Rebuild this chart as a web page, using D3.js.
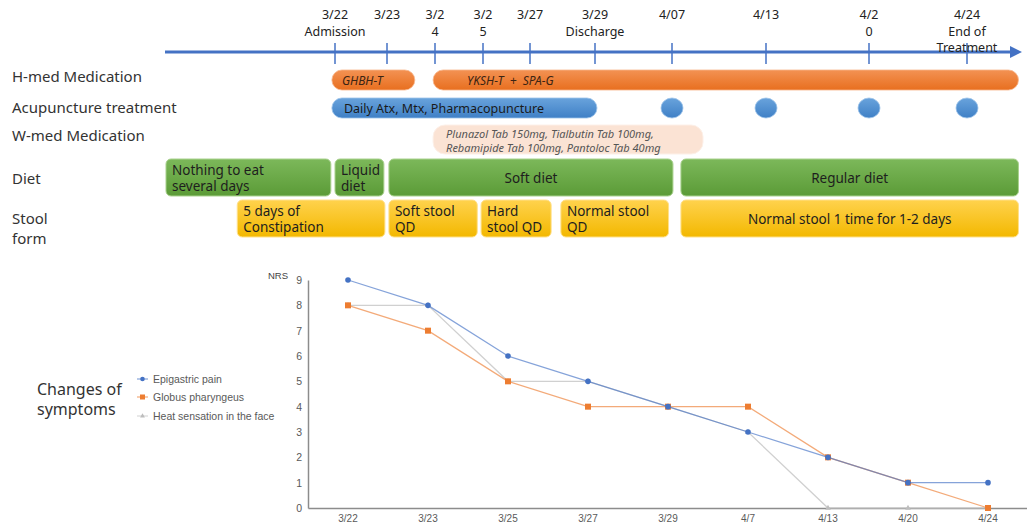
<!DOCTYPE html>
<html>
<head>
<meta charset="utf-8">
<script src="https://cdn.jsdelivr.net/npm/d3@7"></script>
<style>
  body { margin: 0; background: #fff; }
  svg { display: block; font-family: "Noto Sans", sans-serif; }
</style>
</head>
<body>
<svg id="chart"></svg>
<script>
var width = 1027, height = 527

// timeline (days after 3/22 admission)
var tickDays = [0, 1, 2, 3, 5, 7, 16, 22, 29, 33]
var tickLabels = [
    ["3/22", "Admission"], ["3/23"], ["3/2", "4"], ["3/2", "5"], ["3/27"],
    ["3/29", "Discharge"], ["4/07"], ["4/13"], ["4/2", "0"], ["4/24", "End of", "Treatment"]
]

var rowLabels = [["H-med Medication"], ["Acupuncture treatment"], ["W-med Medication"], ["Diet"], ["Stool", "form"]]

var hmedNames = ["GHBH-T", "YKSH-T  +  SPA-G"]
var hmedFrom = [-0.06, 1.96]
var hmedTo = [1.58, 35.1]

var acuName = "Daily Atx, Mtx, Pharmacopuncture"
var acuFrom = -0.06, acuTo = 7.23
var acuVisits = [16, 22, 29, 33]

var wmedLines = ["Plunazol Tab 150mg, Tialbutin Tab 100mg,", "Rebamipide Tab 100mg, Pantoloc Tab 40mg"]
var wmedFrom = 1.96, wmedTo = 17.98

var dietLines = [["Nothing to eat", "several days"], ["Liquid", "diet"], ["Soft diet"], ["Regular diet"]]
var dietFrom = [-3.25, 0, 1.04, 16.57]
var dietTo = [-0.08, 0.94, 16.06, 35.1]

var stoolLines = [["5 days of", "Constipation"], ["Soft stool", "QD"], ["Hard", "stool QD"], ["Normal stool", "QD"], ["Normal stool 1 time for 1-2 days"]]
var stoolFrom = [-1.88, 1.04, 2.96, 5.95, 16.57]
var stoolTo = [0.96, 2.88, 5.65, 15.6, 35.1]

// NRS chart
var dates = ["3/22", "3/23", "3/25", "3/27", "3/29", "4/7", "4/13", "4/20", "4/24"]
var epigastric = [9, 8, 6, 5, 4, 3, 2, 1, 1]
var globus = [8, 7, 5, 4, 4, 4, 2, 1, 0]
var heat = [8, 8, 5, 5, 4, 3, 0, 0, 0]
var seriesNames = ["Epigastric pain", "Globus pharyngeus", "Heat sensation in the face"]

var svg = d3.select("#chart").attr("width", width).attr("height", height)
var defs = svg.append("defs")

function grad(id, c1, c2) {
    var g = defs.append("linearGradient").attr("id", id)
        .attr("x1", 0).attr("y1", 0).attr("x2", 0).attr("y2", 1)
    g.append("stop").attr("offset", "0%").attr("stop-color", c1)
    g.append("stop").attr("offset", "100%").attr("stop-color", c2)
}
grad("gOrange", "#f39253", "#e86f1f")
grad("gBlue", "#69a3dc", "#3f80c6")
grad("gGreen", "#7cb85a", "#5b9b37")
grad("gYellow", "#ffd24d", "#f3b800")

// timeline scale (piecewise, the original spacing is not proportional to time)
var tx = d3.scaleLinear()
    .domain(tickDays)
    .range([335, 387, 435, 483, 530, 595, 672, 766, 869, 967])

var axisY = 52
svg.append("line")
    .attr("x1", 165).attr("x2", 1012)
    .attr("y1", axisY).attr("y2", axisY)
    .attr("stroke", "#4472c4").attr("stroke-width", 3)
svg.append("path")
    .attr("d", "M1010," + (axisY - 6) + "L1022," + axisY + "L1010," + (axisY + 6) + "Z")
    .attr("fill", "#4472c4")

tickDays.forEach((d, i) => {
    svg.append("line")
        .attr("x1", tx(d)).attr("x2", tx(d))
        .attr("y1", axisY - 9).attr("y2", axisY + 12)
        .attr("stroke", "#4472c4").attr("stroke-width", 1.5)
    tickLabels[i].forEach((t, j) => {
        svg.append("text")
            .attr("x", tx(d)).attr("y", 19 + j * 16.5)
            .attr("text-anchor", "middle")
            .style("font-size", "12.5px").style("fill", "#222")
            .text(t)
    })
})

// row labels
var rowY = [[82], [113], [141], [184], [224, 244]]
rowLabels.forEach((r, i) => {
    r.forEach((t, j) => {
        svg.append("text")
            .attr("x", 12).attr("y", rowY[i][j])
            .style("font-size", "15px").style("fill", "#333")
            .text(t)
    })
})

// H-med
hmedNames.forEach((n, i) => {
    svg.append("rect")
        .attr("x", tx(hmedFrom[i])).attr("y", 70)
        .attr("width", tx(hmedTo[i]) - tx(hmedFrom[i])).attr("height", 20)
        .attr("rx", 10)
        .attr("fill", "url(#gOrange)").attr("stroke", "#f7b58a").attr("stroke-width", 0.8)
})
svg.append("text")
    .attr("x", tx(hmedFrom[0]) + 10).attr("y", 85)
    .style("font-size", "12px").style("font-style", "italic").style("fill", "#3b2413")
    .text(hmedNames[0])
svg.append("text")
    .attr("x", tx(hmedFrom[1]) + 34).attr("y", 85)
    .attr("xml:space", "preserve")
    .style("font-size", "12px").style("font-style", "italic").style("fill", "#3b2413")
    .text(hmedNames[1])

// acupuncture
svg.append("rect")
    .attr("x", tx(acuFrom)).attr("y", 98)
    .attr("width", tx(acuTo) - tx(acuFrom)).attr("height", 20)
    .attr("rx", 10)
    .attr("fill", "url(#gBlue)").attr("stroke", "#9cc3ea").attr("stroke-width", 0.8)
svg.append("text")
    .attr("x", tx(acuFrom) + 12).attr("y", 113)
    .style("font-size", "12.5px").style("fill", "#1a1a1a")
    .text(acuName)
acuVisits.forEach(d => {
    svg.append("ellipse")
        .attr("cx", tx(d)).attr("cy", 108)
        .attr("rx", 11).attr("ry", 10)
        .attr("fill", "url(#gBlue)").attr("stroke", "#9cc3ea").attr("stroke-width", 0.8)
})

// W-med
svg.append("rect")
    .attr("x", tx(wmedFrom)).attr("y", 125)
    .attr("width", tx(wmedTo) - tx(wmedFrom)).attr("height", 29)
    .attr("rx", 12)
    .attr("fill", "#fbe3d4").attr("stroke", "#fdf0e8")
wmedLines.forEach((t, j) => {
    svg.append("text")
        .attr("x", tx(wmedFrom) + 13).attr("y", 138 + j * 14)
        .style("font-size", "11px").style("font-style", "italic").style("fill", "#555")
        .text(t)
})

function boxRow(lines, from, to, y, h, fill, stroke) {
    lines.forEach((ls, i) => {
        var x0 = tx(from[i]), x1 = tx(to[i])
        svg.append("rect")
            .attr("x", x0).attr("y", y)
            .attr("width", x1 - x0).attr("height", h)
            .attr("rx", 5)
            .attr("fill", fill).attr("stroke", stroke).attr("stroke-width", 1)
        if (ls.length == 1) {
            svg.append("text")
                .attr("x", (x0 + x1) / 2).attr("y", y + h / 2 + 5)
                .attr("text-anchor", "middle")
                .style("font-size", "13.5px").style("fill", "#1e1e1e")
                .text(ls[0])
        }
        else {
            ls.forEach((t, j) => {
                svg.append("text")
                    .attr("x", x0 + 6).attr("y", y + 16 + j * 16)
                    .style("font-size", "13.5px").style("fill", "#1e1e1e")
                    .text(t)
            })
        }
    })
}
boxRow(dietLines, dietFrom, dietTo, 159, 37, "url(#gGreen)", "#a9d18e")
boxRow(stoolLines, stoolFrom, stoolTo, 200, 37, "url(#gYellow)", "#ffe08a")

// NRS line chart
var x = d3.scaleBand().domain(dates).range([308, 1028])
var y = d3.scaleLinear().domain([0, 9]).range([508, 280])

svg.append("g")
    .attr("transform", "translate(308,0)")
    .call(d3.axisLeft(y).ticks(9).tickSize(0).tickPadding(6))
    .call(g => g.select(".domain").attr("stroke", "#8c8c8c").attr("stroke-width", 1.5))
    .call(g => g.selectAll("text").style("font-family", "Liberation Sans").style("font-size", "10.5px").style("fill", "#595959"))

svg.append("g")
    .attr("transform", "translate(0,508)")
    .call(d3.axisBottom(x).tickSize(0).tickPadding(7))
    .call(g => g.select(".domain").attr("stroke", "#8c8c8c").attr("stroke-width", 1.5))
    .call(g => g.selectAll("text").style("font-family", "Liberation Sans").style("font-size", "10px").style("fill", "#595959"))

svg.append("text")
    .attr("x", 268).attr("y", 279)
    .style("font-family", "Liberation Sans").style("font-size", "9.5px").style("fill", "#444")
    .text("NRS")

var line = d3.line()
    .x((d, i) => x(dates[i]) + x.bandwidth() / 2)
    .y(d => y(d))

var colors = ["#4472c4", "#ed7d31", "#c4c4c4"]
var series = [epigastric, globus, heat]

// draw back to front: heat, globus, epigastric
;[2, 1, 0].forEach(k => {
    svg.append("path")
        .datum(series[k])
        .attr("d", line)
        .attr("fill", "none")
        .attr("stroke", colors[k])
        .attr("stroke-opacity", k == 2 ? 0.8 : 0.65)
        .attr("stroke-width", 1.3)
    series[k].forEach((v, i) => {
        var cx = x(dates[i]) + x.bandwidth() / 2, cy = y(v)
        if (k == 0) {
            svg.append("circle").attr("cx", cx).attr("cy", cy).attr("r", 2.8).attr("fill", colors[k])
        }
        else if (k == 1) {
            svg.append("rect").attr("x", cx - 3).attr("y", cy - 3).attr("width", 6).attr("height", 6).attr("fill", colors[k])
        }
        else {
            svg.append("path").attr("d", d3.symbol(d3.symbolTriangle, 14)()).attr("transform", "translate(" + cx + "," + cy + ")").attr("fill", "#bdbdbd")
        }
    })
})

// legend
var legY = [379, 397, 416]
seriesNames.forEach((n, k) => {
    svg.append("line")
        .attr("x1", 137).attr("x2", 148)
        .attr("y1", legY[k]).attr("y2", legY[k])
        .attr("stroke", colors[k]).attr("stroke-opacity", 0.6).attr("stroke-width", 1.3)
    if (k == 0) svg.append("circle").attr("cx", 142.5).attr("cy", legY[k]).attr("r", 2.3).attr("fill", colors[k])
    else if (k == 1) svg.append("rect").attr("x", 140).attr("y", legY[k] - 2.5).attr("width", 5).attr("height", 5).attr("fill", colors[k])
    else svg.append("path").attr("d", d3.symbol(d3.symbolTriangle, 10)()).attr("transform", "translate(142.5," + legY[k] + ")").attr("fill", "#bdbdbd")
    svg.append("text")
        .attr("x", 153).attr("y", legY[k] + 3.5)
        .style("font-family", "Liberation Sans").style("font-size", "10.5px").style("fill", "#595959")
        .text(n)
})

svg.append("text").attr("x", 37).attr("y", 395)
    .style("font-size", "16px").style("fill", "#333").text("Changes of")
svg.append("text").attr("x", 37).attr("y", 415)
    .style("font-size", "16px").style("fill", "#333").text("symptoms")
</script>
</body>
</html>
